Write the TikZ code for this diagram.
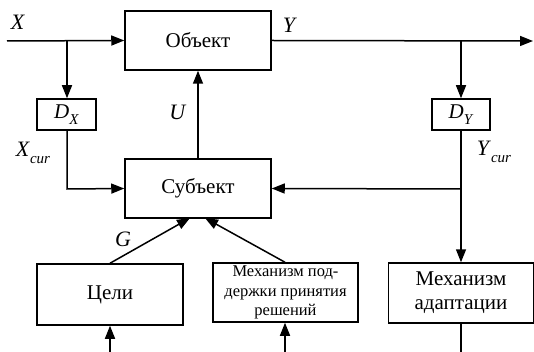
\documentclass[tikz,border=0pt]{standalone}
\usepackage{fontspec}
\setmainfont{Liberation Serif}
\usetikzlibrary{arrows.meta, positioning}

\newcommand{\idx}[2]{\textit{#1}\raisebox{-0.3em}{\fontsize{15}{15}\selectfont\textit{#2}}}

\tikzset{
    blk/.style={draw, line width=1.5pt, rectangle, inner sep=0pt, align=center,
        font=\fontsize{21}{24}\selectfont},
    sblk/.style={blk, font=\fontsize{16.5}{19.5}\selectfont},
    lbl/.style={font=\fontsize{22}{24}\selectfont}
}

\begin{document}
\begin{tikzpicture}[x=1pt, y=-1pt, line width=1.5pt, >={Triangle[length=13pt,width=10pt]}]
                                \useasboundingbox (0, 0) rectangle (534, 352);
                                % blocks
                                \node[blk, minimum width=146pt, minimum height=59pt] (obj) at (198, 40.5) {Объект};
                                \node[blk, minimum width=146pt, minimum height=59pt] (subj) at (198, 188.5) {Субъект};
                                \node[blk, minimum width=59pt, minimum height=31pt] (dx) at (66.5, 114.5) {\idx{D}{X}};
                                \node[blk, minimum width=58pt, minimum height=31pt] (dy) at (461, 114.5) {\idx{D}{Y}};
                                \node[blk, minimum width=146pt, minimum height=61pt] (goals) at (110, 294.5) {Цели};
                                \node[sblk, minimum width=145pt, minimum height=59pt] (supp) at (285.5, 292.5) {Механизм под-\\держки принятия\\решений};
                                \node[blk, minimum width=145pt, minimum height=60pt] (adapt) at (461, 293) {Механизм\\адаптации};
                                % free ends
                                \coordinate (xin) at (7, 41);
                                \coordinate (yout) at (533, 41);
                                \coordinate (xs) at (67, 41);
                                \coordinate (ys) at (461, 41);
                                \coordinate (xc) at (67, 189);
                                \coordinate (yc) at (461, 189);
                                \coordinate (gin) at (190, 218);
                                \coordinate (sin) at (205, 218);
                                \coordinate (gbot) at (110, 352);
                                \coordinate (sbot) at (285, 352);
                                \coordinate (abot) at (461, 352);
                                % connectors
                                \draw
                                (xin) edge[->] (obj.west)
                                (obj.east) edge[->] (yout)
                                (xs) edge[->] (xs |- dx.north)
                                (ys) edge[->] (dy.north)
                                (subj.north) edge[->] (obj.south)
                                (yc) edge[->] (subj.east)
                                (dy.south) edge[->] (adapt.north)
                                (goals.north -| gbot) edge[->] (gin)
                                (supp.north -| sbot) edge[->] (sin)
                                (gbot) edge[->] (goals.south -| gbot)
                                (sbot) edge[->] (supp.south -| sbot)
                                (adapt.south) edge (abot);
                                \draw[->] (dx.south -| xc) -- (xc) -- (subj.west);
                                % labels
                                \node[lbl] (lx) at (18, 22) {\textit{X}};
                                \node[lbl] (ly) at (290, 25) {\textit{Y}};
                                \node[lbl] (lu) at (178, 112) {\textit{U}};
                                \node[lbl] (lg) at (123, 239) {\textit{G}};
                                \node[lbl] (lxc) at (33, 153) {\idx{X}{cur}};
                                \node[lbl] (lyc) at (494, 152) {\idx{Y}{cur}};
                            \end{tikzpicture}
\end{document}
